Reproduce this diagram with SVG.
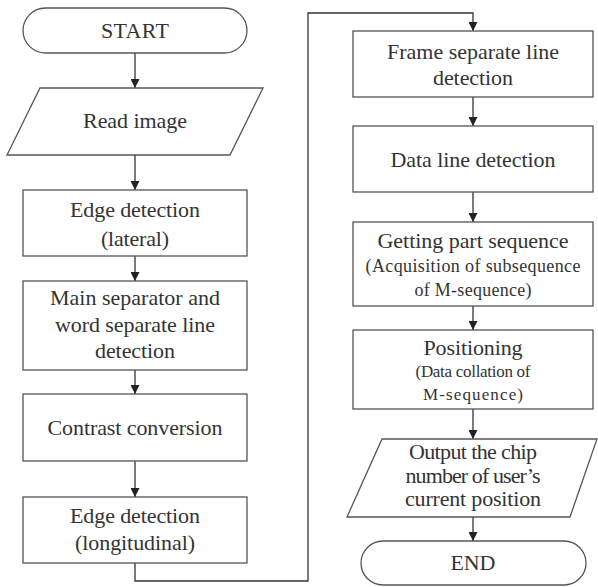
<svg xmlns="http://www.w3.org/2000/svg" width="598" height="587" viewBox="0 0 598 587">
  <defs>
    <marker id="arrow" viewBox="0 0 10 10" refX="10" refY="5" markerWidth="9" markerHeight="9" markerUnits="userSpaceOnUse" orient="auto">
      <path d="M0,0 L10,5 L0,10 Z" fill="#222"/>
    </marker>
    <style>
      .shape { fill: #fff; stroke: #555; stroke-width: 1.3; }
      text { font-family: "Liberation Serif", "Times New Roman", serif; fill: #333; text-anchor: middle; }
      .t { font-size: 22px; }
      .s { font-size: 18px; }
      .s2 { font-size: 17px; }
      .edge { fill: none; stroke: #333; stroke-width: 1.3; }
    </style>
  </defs>
  <rect width="598" height="587" fill="#fff"/>

  <g id="connectors">
    <line class="edge" x1="135" y1="53" x2="135" y2="88" marker-end="url(#arrow)"/>
    <line class="edge" x1="135" y1="155" x2="135" y2="190" marker-end="url(#arrow)"/>
    <line class="edge" x1="135" y1="256" x2="135" y2="281" marker-end="url(#arrow)"/>
    <line class="edge" x1="135" y1="370" x2="135" y2="394" marker-end="url(#arrow)"/>
    <line class="edge" x1="135" y1="461" x2="135" y2="497" marker-end="url(#arrow)"/>
    <polyline class="edge" points="135,563 135,581 308,581 308,13 473,13 473,31" marker-end="url(#arrow)"/>
    <line class="edge" x1="473" y1="97" x2="473" y2="126" marker-end="url(#arrow)"/>
    <line class="edge" x1="473" y1="192" x2="473" y2="222" marker-end="url(#arrow)"/>
    <line class="edge" x1="473" y1="306" x2="473" y2="330" marker-end="url(#arrow)"/>
    <line class="edge" x1="473" y1="409" x2="473" y2="439" marker-end="url(#arrow)"/>
    <line class="edge" x1="473" y1="517" x2="473" y2="541" marker-end="url(#arrow)"/>
  </g>

  <g id="start">
    <rect class="shape" x="23" y="8" width="224" height="45" rx="22.5" ry="22.5"/>
    <text class="t" x="135" y="38" textLength="68">START</text>
  </g>

  <g id="read-image">
    <polygon class="shape" points="40,88 263,88 230,155 7,155"/>
    <text class="t" x="135" y="128" textLength="104">Read image</text>
  </g>

  <g id="edge-lateral">
    <rect class="shape" x="23" y="190" width="224" height="66"/>
    <text class="t" x="135" y="217" textLength="130">Edge detection</text>
    <text class="t" x="135" y="246" textLength="68">(lateral)</text>
  </g>

  <g id="main-separator">
    <rect class="shape" x="23" y="281" width="224" height="89"/>
    <text class="t" x="135" y="305" textLength="170">Main separator and</text>
    <text class="t" x="135" y="332" textLength="160">word separate line</text>
    <text class="t" x="135" y="358" textLength="80">detection</text>
  </g>

  <g id="contrast">
    <rect class="shape" x="23" y="394" width="224" height="67"/>
    <text class="t" x="135" y="435" textLength="175">Contrast conversion</text>
  </g>

  <g id="edge-longitudinal">
    <rect class="shape" x="23" y="497" width="224" height="66"/>
    <text class="t" x="135" y="523" textLength="130">Edge detection</text>
    <text class="t" x="135" y="550" textLength="120">(longitudinal)</text>
  </g>

  <g id="frame-line">
    <rect class="shape" x="353" y="31" width="240" height="66"/>
    <text class="t" x="473" y="59" textLength="172">Frame separate line</text>
    <text class="t" x="473" y="85" textLength="80">detection</text>
  </g>

  <g id="data-line">
    <rect class="shape" x="353" y="126" width="240" height="66"/>
    <text class="t" x="473" y="167" textLength="165">Data line detection</text>
  </g>

  <g id="part-sequence">
    <rect class="shape" x="353" y="222" width="240" height="84"/>
    <text class="t" x="473" y="248" textLength="191">Getting part sequence</text>
    <text class="s" x="473" y="272" textLength="215">(Acquisition of subsequence</text>
    <text class="s" x="473" y="296" textLength="117">of M-sequence)</text>
  </g>

  <g id="positioning">
    <rect class="shape" x="353" y="330" width="240" height="79"/>
    <text class="t" x="473" y="355" textLength="99">Positioning</text>
    <text class="s2" x="473" y="377" textLength="115">(Data collation of</text>
    <text class="s2" x="473" y="400" textLength="100">M-sequence)</text>
  </g>

  <g id="output">
    <polygon class="shape" points="382,439 597,439 570,517 347,517"/>
    <text class="t" x="473" y="459" textLength="128">Output the chip</text>
    <text class="t" x="473" y="483" textLength="135">number of user’s</text>
    <text class="t" x="473" y="506" textLength="136">current position</text>
  </g>

  <g id="end">
    <rect class="shape" x="361" y="541" width="225" height="44" rx="22" ry="22"/>
    <text class="t" x="473" y="570" textLength="45">END</text>
  </g>
</svg>
